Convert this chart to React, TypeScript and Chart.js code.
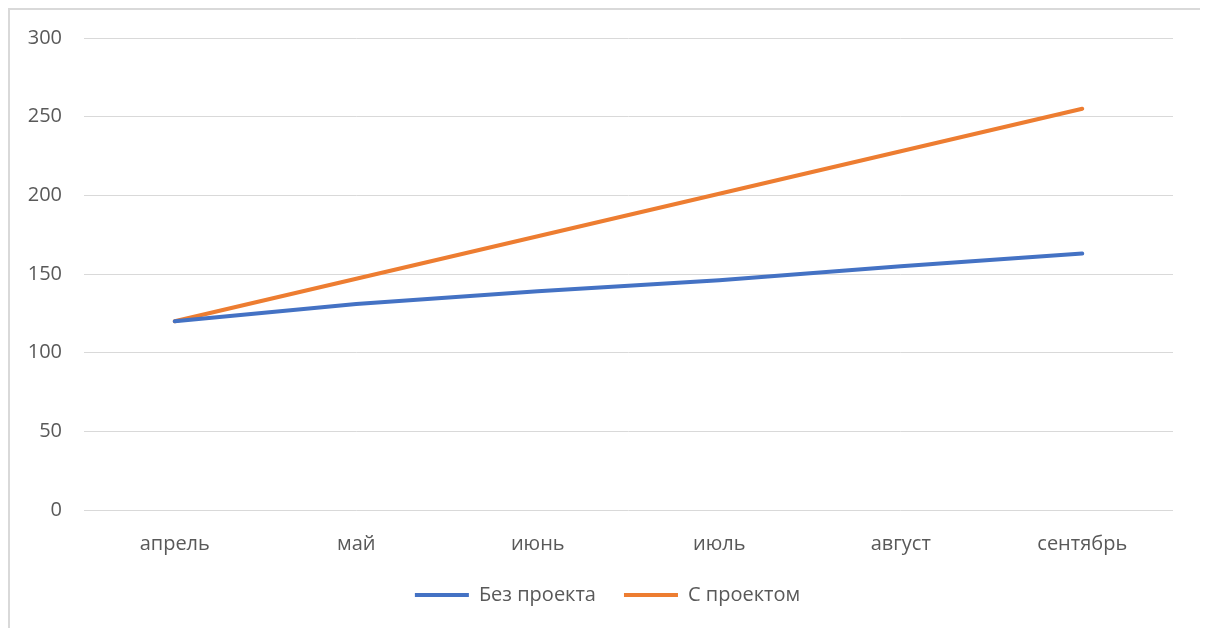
import React, { useEffect, useRef } from "react";
import { Chart, registerables } from "chart.js";

Chart.register(...registerables);

const categories = ["апрель", "май", "июнь", "июль", "август", "сентябрь"];
const seriesNames = ["Без проекта", "С проектом"];
const withoutProject = [120, 131, 139, 146, 155, 163];
const withProject = [120, 147, 174, 201, 228, 255];
const yMin = 0;
const yMax = 300;
const yStep = 50;

const TEXT = "#595959";
const GRID = "#d9d9d9";

const legendShift = {
  id: "legendShift",
  afterLayout(chart: any) {
    if (chart.legend) {
      chart.legend.left += 16;
      chart.legend.right += 16;
    }
  },
};

export default function App() {
  const ref = useRef<HTMLCanvasElement | null>(null);

  useEffect(() => {
    if (!ref.current) return;
    const chart = new Chart(ref.current, {
      type: "line",
      data: {
        labels: categories,
        datasets: [
          {
            label: seriesNames[0],
            data: withoutProject,
            borderColor: "#4472C4",
            backgroundColor: "#4472C4",
            borderWidth: 4,
            borderCapStyle: "round",
            borderJoinStyle: "round",
            pointRadius: 0,
            pointStyle: "line",
            tension: 0,
          },
          {
            label: seriesNames[1],
            data: withProject,
            borderColor: "#ED7D31",
            backgroundColor: "#ED7D31",
            borderWidth: 4,
            borderCapStyle: "round",
            borderJoinStyle: "round",
            pointRadius: 0,
            pointStyle: "line",
            tension: 0,
          },
        ],
      },
      plugins: [legendShift],
      options: {
        animation: false,
        responsive: true,
        maintainAspectRatio: false,
        layout: { padding: { left: 0, right: 28, top: 28, bottom: 13 } },
        plugins: {
          tooltip: { enabled: false },
          legend: {
            position: "bottom",
            labels: {
              usePointStyle: true,
              pointStyleWidth: 54,
              boxHeight: 4,
              padding: 28,
              color: TEXT,
              font: { family: "'Open Sans'", size: 20 },
            },
          },
        },
        scales: {
          x: {
            offset: true,
            grid: { display: false, drawTicks: false },
            border: { display: false },
            ticks: {
              color: TEXT,
              padding: 22,
              maxRotation: 0,
              font: { family: "'Open Sans'", size: 20 },
            },
            afterFit: (scale: any) => {
              scale.height = scale.height - 21;
            },
          },
          y: {
            min: yMin,
            max: yMax,
            grid: { color: GRID, lineWidth: 1, drawTicks: false },
            border: { display: false },
            ticks: {
              stepSize: yStep,
              color: TEXT,
              padding: 22,
              font: { family: "'Open Sans'", size: 20 },
            },
            afterFit: (scale: any) => {
              scale.width = 74;
              scale.paddingTop = 0;
              scale.paddingBottom = 0;
            },
          },
        },
      },
    });
    return () => chart.destroy();
  }, []);

  return (
    <div
      style={{
        width: 1195,
        height: 620,
        boxSizing: "border-box",
        border: "2px solid #d9d9d9",
        borderBottom: "none",
        background: "#fff",
      }}
    >
      <div style={{ position: "relative", width: 1191, height: 618 }}>
        <canvas ref={ref} />
      </div>
    </div>
  );
}
